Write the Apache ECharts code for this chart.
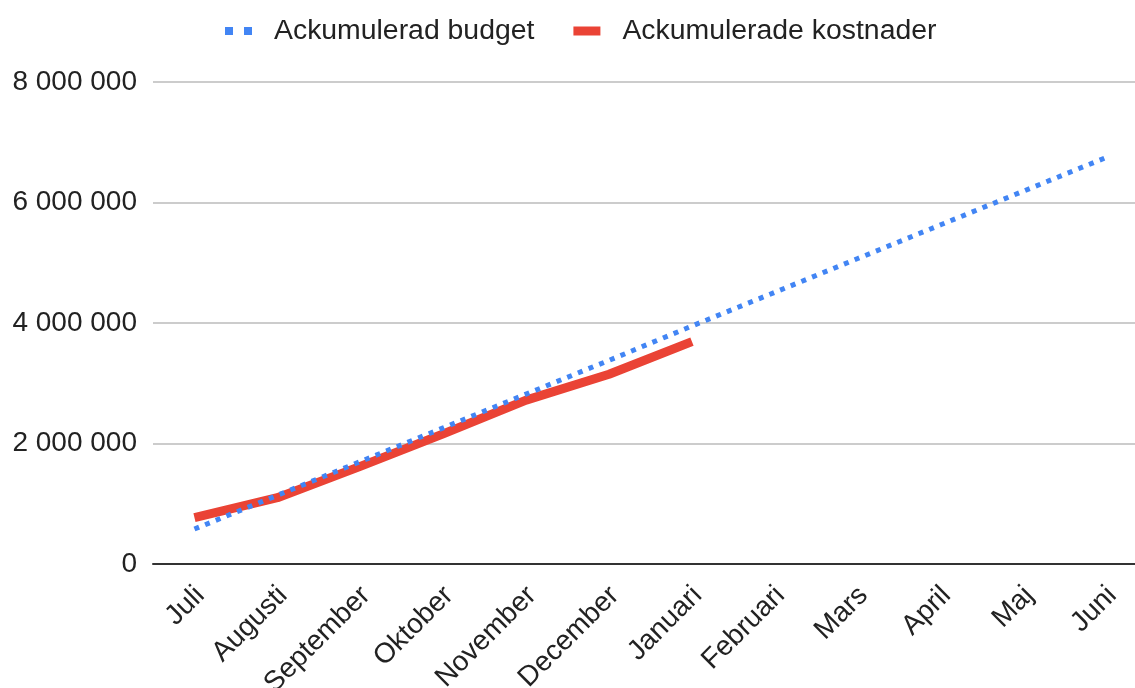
<!DOCTYPE html>
<html>
<head>
<meta charset="utf-8">
<script src="https://cdn.jsdelivr.net/npm/echarts@6/dist/echarts.min.js"></script>
<style>
html,body{margin:0;padding:0;background:#fff;}
#chart{width:1135px;height:688px;}
</style>
</head>
<body>
<div id="chart"></div>
<script>
const categories = ['Juli','Augusti','September','Oktober','November','December','Januari','Februari','Mars','April','Maj','Juni'];
const budget = [580000, 1140000, 1700000, 2260000, 2820000, 3380000, 3950000, 4510000, 5070000, 5630000, 6190000, 6750000];
const costs = [770000, 1100000, 1620000, 2160000, 2720000, 3150000, 3690000];
const yTicks = [0, 2000000, 4000000, 6000000, 8000000];
const seriesNames = ['Ackumulerad budget', 'Ackumulerade kostnader'];

const FONT = '"Liberation Sans", Arial, Helvetica, sans-serif';
const fmt = v => String(v).replace(/\B(?=(\d{3})+(?!\d))/g, ' ');

const chart = echarts.init(document.getElementById('chart'));
chart.setOption({
  animation: false,
  backgroundColor: '#ffffff',
  legend: {
    top: 12,
    left: 220,
    itemGap: 39,
    itemWidth: 27,
    itemHeight: 9,
    textStyle: {fontFamily: FONT, fontSize: 28.4, color: '#222', padding: [0,0,0,17]},
    data: [
      {name: seriesNames[0], icon: 'path://M0,0h8v8h-8z M19,0h8v8h-8z', itemStyle: {color: '#4285F4'}},
      {name: seriesNames[1], icon: 'rect', itemStyle: {color: '#EA4335'}}
    ]
  },
  grid: {left: 153, top: 82, width: 995, height: 482, containLabel: false, outerBoundsMode: 'none'},
  xAxis: {
    type: 'category',
    data: categories,
    boundaryGap: true,
    axisLine: {show: true, lineStyle: {color: '#333', width: 2}},
    axisTick: {show: false},
    axisLabel: {rotate: 45, interval: 0, margin: 13, verticalAlign: 'top', padding: [0,6,0,0], fontFamily: FONT, fontSize: 28, color: '#222'}
  },
  yAxis: {
    type: 'value',
    min: yTicks[0],
    max: yTicks[yTicks.length-1],
    interval: yTicks[1] - yTicks[0],
    axisLine: {show: false},
    axisTick: {show: false},
    splitLine: {lineStyle: {color: '#cccccc', width: 2}},
    axisLabel: {margin: 16, fontFamily: FONT, fontSize: 28, color: '#222', formatter: fmt}
  },
  series: [
    {
      name: seriesNames[0],
      type: 'line',
      data: budget,
      symbol: 'none',
      lineStyle: {color: '#4285F4', width: 5, type: [5, 6.5], cap: 'butt'},
      itemStyle: {color: '#4285F4'},
      z: 3
    },
    {
      name: seriesNames[1],
      type: 'line',
      data: costs,
      symbol: 'none',
      lineStyle: {color: '#EA4335', width: 9, cap: 'butt', join: 'round'},
      itemStyle: {color: '#EA4335'},
      z: 2
    }
  ]
});
</script>
</body>
</html>
